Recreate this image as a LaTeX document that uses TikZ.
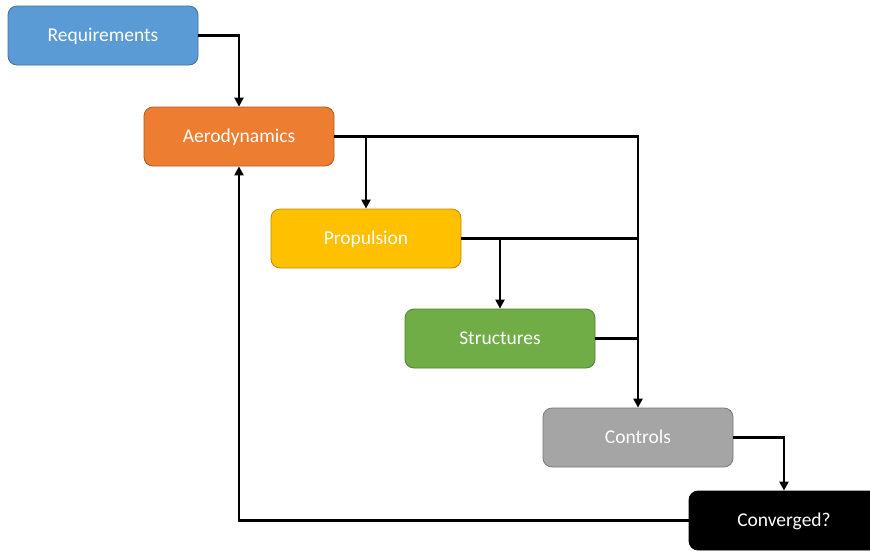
\documentclass[tikz,border=0pt]{standalone}
\usepackage{fontspec}
\setmainfont{Carlito}
\usetikzlibrary{arrows.meta}
\definecolor{cblue}{HTML}{5B9BD5}\definecolor{cblueb}{HTML}{41719C}
\definecolor{corange}{HTML}{ED7D31}\definecolor{coranb}{HTML}{AE5A21}
\definecolor{cyellow}{HTML}{FFC000}\definecolor{cyelb}{HTML}{BC8C00}
\definecolor{cgreen}{HTML}{70AD47}\definecolor{cgreenb}{HTML}{507E32}
\definecolor{cgray}{HTML}{A5A5A5}\definecolor{cgrayb}{HTML}{787878}
\begin{document}
\begin{tikzpicture}[x=1pt,y=-1pt,
  box/.style={draw, line width=0.8pt, rounded corners=9pt, minimum width=190pt, minimum height=59pt,
    inner sep=0pt, text=white, text height=11pt, text depth=0pt, font=\fontsize{19.5}{23}\selectfont},
  conn/.style={line width=2.8pt, line join=miter},
  arr/.style={conn, -{Triangle[width=9pt,length=9pt]}}]
\useasboundingbox (0,0) rectangle (870,550);
\node[box, fill=cblue, draw=cblueb] (req) at (103,35.5) {Requirements};
\node[box, fill=corange, draw=coranb] (aero) at (239,136.5) {Aerodynamics};
\node[box, fill=cyellow, draw=cyelb] (prop) at (366,238.5) {Propulsion};
\node[box, fill=cgreen, draw=cgreenb] (str) at (500,338.5) {Structures};
\node[box, fill=cgray, draw=cgrayb] (ctrl) at (638,437.5) {Controls};
\node[box, fill=black, draw=black] (conv) at (784,520.5) {Converged?};
\draw[arr] (req.east) -| (aero.north);
\draw[arr] (aero.east) -| (ctrl.north);
\draw[arr] (aero.east) -| (prop.north);
\draw[conn] (prop.east) -- (prop.east -| ctrl.north);
\draw[arr] (prop.east) -| (str.north);
\draw[conn] (str.east) -- (str.east -| ctrl.north);
\draw[arr] (ctrl.east) -| (conv.north);
\draw[arr] (conv.west) -| (aero.south);
\end{tikzpicture}
\end{document}
